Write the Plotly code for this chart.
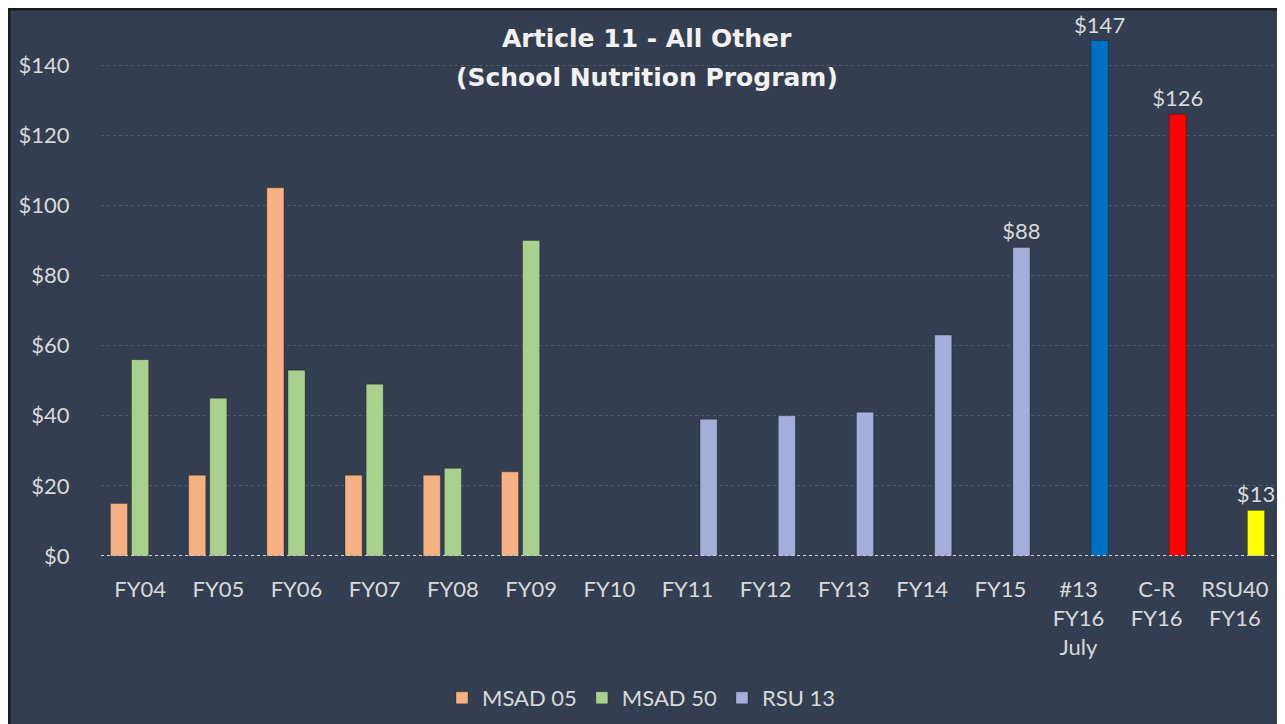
import plotly.graph_objects as go

categories = ["FY04", "FY05", "FY06", "FY07", "FY08", "FY09", "FY10", "FY11", "FY12",
              "FY13", "FY14", "FY15", "#13<br>FY16<br>July", "C-R<br>FY16", "RSU40<br>FY16"]
msad05 = [15, 23, 105, 23, 23, 24, None, None, None, None, None, None, None, None, None]
msad50 = [56, 45, 53, 49, 25, 90, None, None, None, None, None, None, None, None, None]
rsu13 = [None, None, None, None, None, None, None, 39, 40, 41, 63, 88, 147, 126, 13]
rsu13_labels = ["", "", "", "", "", "", "", "", "", "", "", "$88", "$147", "$126", "$13"]

y_ticks = [0, 20, 40, 60, 80, 100, 120, 140]
y_ticklabels = ["$0", "$20", "$40", "$60", "$80", "$100", "$120", "$140"]

title_line1 = "Article 11 - All Other"
title_line2 = "(School Nutrition Program)"

BG = "#333f50"
TXT = "#d9d9d9"
FONT = "Lato"
TITLE_FONT = "DejaVu Sans"

rsu_colors = ["#a3aedb"] * 12 + ["#0070c0", "#ff0000", "#ffff00"]
edge = dict(color="rgba(0,0,0,0.25)", width=1)

fig = go.Figure()
fig.add_trace(go.Bar(name="MSAD 05", x=categories, y=msad05,
                     marker=dict(color="#f4b183", line=edge)))
fig.add_trace(go.Bar(name="MSAD 50", x=categories, y=msad50,
                     marker=dict(color="#a9d18e", line=edge)))
fig.add_trace(go.Bar(name="RSU 13", x=categories, y=rsu13,
                     marker=dict(color=rsu_colors, line=edge),
                     text=rsu13_labels, textposition="outside", cliponaxis=False,
                     constraintext="none",
                     textfont=dict(family=FONT, size=22, color=TXT)))

W, H = 1285, 724
L, R, T, B = 93, 19, 22, 176
pw, ph = W - L - R, H - T - B


def px(x):
    return (x - L) / pw


def py(y):
    return (H - B - y) / ph


shapes = [
    dict(type="line", xref="paper", yref="y", x0=0, x1=1, y0=0, y1=0,
         line=dict(color="#c8ccd4", width=2, dash="dot"), layer="above"),
    dict(type="rect", xref="paper", yref="paper", x0=px(1), x1=px(W + 10), y0=py(1), y1=py(H + 10),
         fillcolor="rgba(0,0,0,0)", line=dict(color="#1c1c1c", width=3), layer="above"),
]

annotations = [
    dict(text="<b>" + title_line1 + "</b>", xref="paper", yref="paper", x=px(639), y=py(30),
         xanchor="center", yanchor="middle", showarrow=False,
         font=dict(family=TITLE_FONT, size=25, color="#f2f2f2")),
    dict(text="<b>" + title_line2 + "</b>", xref="paper", yref="paper", x=px(639), y=py(69),
         xanchor="center", yanchor="middle", showarrow=False,
         font=dict(family=TITLE_FONT, size=25, color="#f2f2f2")),
]

fig.update_layout(
    width=W, height=H,
    margin=dict(l=L, r=R, t=T, b=B),
    paper_bgcolor=BG, plot_bgcolor=BG,
    barmode="group", bargap=0.19, bargroupgap=0.19,
    font=dict(family=FONT, color=TXT, size=22),
    showlegend=True,
    legend=dict(orientation="h", x=px(434), xref="paper", xanchor="left",
                y=py(690), yanchor="middle", font=dict(family=FONT, size=22, color=TXT),
                bgcolor="rgba(0,0,0,0)", itemwidth=30, tracegroupgap=0),
    shapes=shapes,
    annotations=annotations,
)
fig.update_yaxes(range=[0, 150], tickvals=y_ticks, ticktext=y_ticklabels,
                 showgrid=True, gridcolor="#4f5a6b", griddash="dot", gridwidth=1,
                 zeroline=False, showline=False, ticks="outside", ticklen=26,
                 tickcolor="rgba(0,0,0,0)", tickfont=dict(family=FONT, size=22, color=TXT),
                 fixedrange=True)
fig.update_xaxes(showgrid=False, zeroline=False, showline=False, ticks="outside", ticklen=14,
                 tickcolor="rgba(0,0,0,0)", tickfont=dict(family=FONT, size=22, color=TXT),
                 tickangle=0, fixedrange=True)

fig.write_html("out.html")
